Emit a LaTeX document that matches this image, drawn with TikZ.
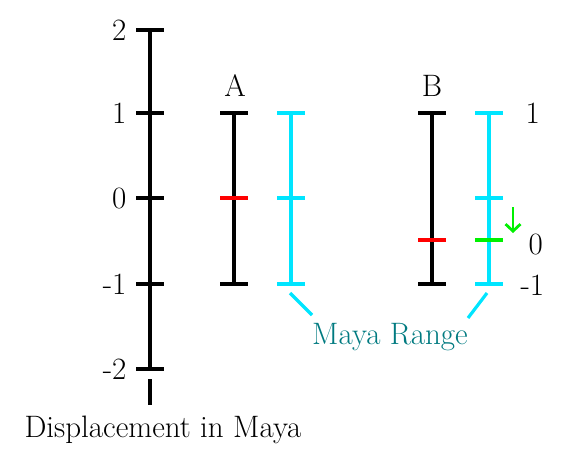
\documentclass[tikz,border=0pt]{standalone}
\usepackage{fontspec}
\usepackage{tikz}
\usetikzlibrary{positioning, arrows.meta}
\definecolor{mayacyan}{RGB}{0,229,255}
\definecolor{mayateal}{RGB}{0,122,128}
\definecolor{mayagreen}{RGB}{0,240,0}

\begin{document}
\begin{tikzpicture}[x=1pt,y=-1pt,line width=3.2pt,
    lab/.style={inner sep=0pt,font=\fontsize{31}{36}\selectfont},
    blackbar/.style={draw=black},
    mayabar/.style={draw=mayacyan},
    zeromark/.style={draw=red}]
    \useasboundingbox (0,0) rectangle (570,461);

    % displacement axis
    \coordinate (axtop) at (150,30);
    \coordinate (axbot) at (150,369);
    \coordinate (axend) at (150,405);
    \draw[blackbar] (axtop) -- (axbot);
    \draw[blackbar] ([yshift=-10pt]axbot) -- (axend);
    \foreach \y/\v in {30/2,113/1,198/0,284/-1,369/-2} {
        \draw[blackbar] (136,\y) -- (164,\y);
        \node[lab,anchor=east] at (128,\y) {\v};
    }
    \node[lab,anchor=base] (disp) at (163,437) {Displacement in Maya};

    % A
    \coordinate (atop) at (234,113);
    \coordinate (abot) at (234,284);
    \draw[blackbar] (atop) -- (abot);
    \draw[blackbar] ([xshift=-14pt]atop) -- ([xshift=14pt]atop);
    \draw[blackbar] ([xshift=-14pt]abot) -- ([xshift=14pt]abot);
    \draw[zeromark] (220,198) -- (248,198);
    \node[lab,anchor=base] (a) at (235,96) {A};

    \coordinate (catop) at (291,113);
    \coordinate (cabot) at (291,284);
    \draw[mayabar] (catop) -- (cabot);
    \foreach \y in {113,198,284}
        \draw[mayabar] (277,\y) -- (305,\y);

    % B
    \coordinate (btop) at (432,113);
    \coordinate (bbot) at (432,284);
    \draw[blackbar] (btop) -- (bbot);
    \draw[blackbar] ([xshift=-14pt]btop) -- ([xshift=14pt]btop);
    \draw[blackbar] ([xshift=-14pt]bbot) -- ([xshift=14pt]bbot);
    \draw[zeromark] (418,240) -- (446,240);
    \node[lab,anchor=base] (b) at (432,96) {B};

    \coordinate (cbtop) at (489,113);
    \coordinate (cbbot) at (489,284);
    \draw[mayabar] (cbtop) -- (cbbot);
    \foreach \y in {113,198,284}
        \draw[mayabar] (475,\y) -- (503,\y);
    \draw[draw=mayagreen] (475,240) -- (503,240);
    \coordinate (shift0) at (513,207);
    \coordinate (shift1) at (513,233);
    \draw[mayagreen,line width=2.8pt,-{Straight Barb[length=7pt,width=15pt]}] (shift0) -- (shift1);

    \node[lab,anchor=west] (one) at (524,113) {1};
    \node[lab,anchor=west] (zero) at (527,244) {0};
    \node[lab,anchor=west] (mone) at (519,285) {-1};

    % maya range
    \node[lab,anchor=base,text=mayateal] (maya) at (390,344) {Maya Range};
    \coordinate (ra) at (290,293);
    \coordinate (rb) at (487,293);
    \draw[mayabar] (ra) -- (312,315);
    \draw[mayabar] (rb) -- (468,318);
\end{tikzpicture}
\end{document}
